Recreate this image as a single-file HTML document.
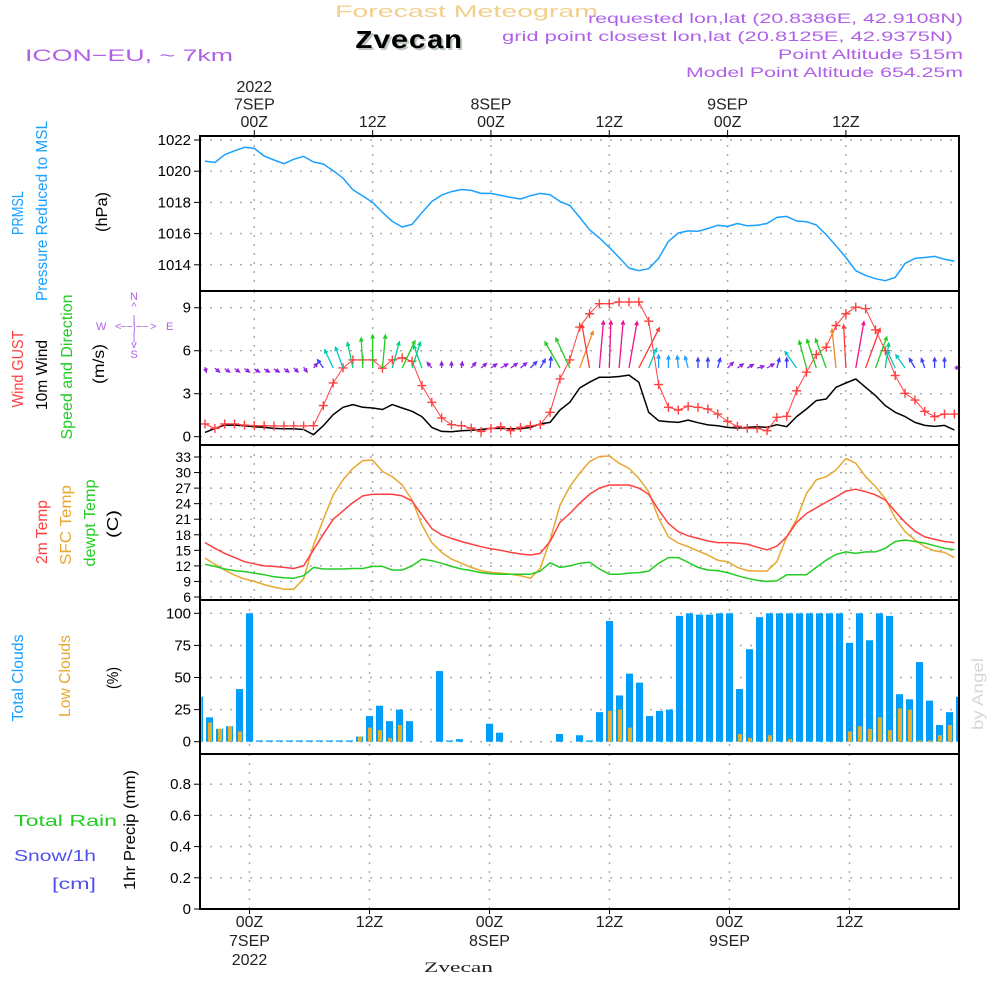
<!DOCTYPE html>
<html><head><meta charset="utf-8"><title>Forecast Meteogram Zvecan</title>
<style>
html,body{margin:0;padding:0;background:#fff;}
svg{display:block;font-family:"Liberation Sans",sans-serif;}
</style></head>
<body>
<svg id="chart" width="1000" height="1000" viewBox="0 0 1000 1000" xmlns="http://www.w3.org/2000/svg">
<rect x="0" y="0" width="1000" height="1000" fill="#fff"/>
<g id="header">
<text x="335" y="17" font-size="17" fill="#f2cf8c" textLength="263" lengthAdjust="spacingAndGlyphs">Forecast Meteogram</text>
<text x="357" y="50" font-family="Liberation Mono, monospace" font-weight="bold" font-size="26" fill="#bcc8bc" textLength="107" lengthAdjust="spacingAndGlyphs">Zvecan</text>
<text x="355" y="48" font-family="Liberation Mono, monospace" font-weight="bold" font-size="26" fill="#000" textLength="107" lengthAdjust="spacingAndGlyphs">Zvecan</text>
<text x="25" y="61" font-size="17" fill="#b060e8" textLength="208" lengthAdjust="spacingAndGlyphs">ICON−EU, ~ 7km</text>
<text x="588" y="23" font-size="14" fill="#b060e8" textLength="375" lengthAdjust="spacingAndGlyphs">requested lon,lat (20.8386E, 42.9108N)</text>
<text x="502" y="41" font-size="14" fill="#b060e8" textLength="451" lengthAdjust="spacingAndGlyphs">grid point closest lon,lat (20.8125E, 42.9375N)</text>
<text x="778" y="59" font-size="14" fill="#b060e8" textLength="185" lengthAdjust="spacingAndGlyphs">Point Altitude 515m</text>
<text x="686" y="77" font-size="14" fill="#b060e8" textLength="277" lengthAdjust="spacingAndGlyphs">Model Point Altitude 654.25m</text>
</g>
<g id="grid"></g>
<g id="marks"></g>
<g id="frames"></g>
<g id="labels"></g>
</svg>
<script>
// ---- data (hourly, h = -5 .. 71) ----
const hours = Array.from({length:77},(_,i)=>i-5);
const pressure = [1020.65,1020.56,1021.06,1021.31,1021.53,1021.46,1020.97,1020.72,1020.48,1020.76,1020.95,1020.59,1020.46,1020.03,1019.56,1018.81,1018.41,1018.0,1017.36,1016.78,1016.42,1016.59,1017.34,1018.06,1018.47,1018.69,1018.83,1018.77,1018.58,1018.58,1018.45,1018.32,1018.22,1018.43,1018.58,1018.49,1018.06,1017.81,1017.04,
1016.25,1015.72,1015.12,1014.47,1013.79,1013.62,1013.75,1014.41,1015.5,1016.04,1016.17,1016.15,1016.33,1016.53,1016.46,1016.65,1016.5,1016.53,1016.65,1017.04,1017.1,1016.81,1016.76,1016.55,1015.93,1015.22,1014.47,1013.62,1013.32,1013.11,1012.98,1013.19,1014.09,1014.41,1014.47,1014.54,1014.35,1014.24];
const windSpeed = [0.3,0.58,0.81,0.81,0.77,0.7,0.65,0.58,0.55,0.55,0.5,0.14,0.77,1.54,2.05,2.24,2.05,2.0,1.9,2.24,2.0,1.77,1.4,0.65,0.37,0.35,0.42,0.45,0.5,0.58,0.58,0.55,0.55,0.65,0.89,1.0,1.86,2.4,3.4,
3.8,4.15,4.15,4.2,4.3,3.8,1.7,1.12,1.05,1.0,1.16,0.98,0.82,0.77,0.65,0.6,0.65,0.7,0.65,0.84,0.7,1.4,1.93,2.52,2.63,3.45,3.75,4.03,3.45,2.87,2.17,1.7,1.4,1.0,0.79,0.72,0.79,0.47];
const windGust = [0.89,0.58,0.89,0.89,0.81,0.77,0.77,0.75,0.75,0.75,0.75,0.77,2.17,3.75,4.8,5.36,5.36,5.36,4.78,5.36,5.5,5.27,3.57,2.4,1.31,0.84,0.77,0.6,0.37,0.58,0.7,0.42,0.65,0.77,0.84,1.7,4.03,5.36,7.65,
8.58,9.28,9.28,9.4,9.4,9.4,8.06,3.64,2.05,1.86,2.12,2.05,1.93,1.58,1.07,0.72,0.58,0.58,0.42,1.35,1.42,3.2,4.5,5.73,6.25,7.76,8.58,9.04,8.93,7.46,6.0,4.27,3.03,2.56,1.77,1.4,1.58,1.58];
const windDir = [165,130,125,125,125,120,120,120,125,135,145,40,-35,-25,-20,-12,-3,0,5,15,25,18,-20,-40,0,0,10,40,50,55,60,55,50,45,30,5,-30,-25,20,
-10,5,2,5,10,27,22,0,0,-5,-15,0,0,15,45,55,60,75,60,15,0,-35,-15,-18,-20,-6,-3,10,20,20,8,-25,-35,-30,-20,0,0,85];
const arrowMag = [0.5,0.6,0.6,0.6,0.6,0.6,0.6,0.6,0.6,0.6,0.6,0.6,1.0,2.0,2.2,2.6,3.0,3.3,3.3,2.7,3.0,2.7,2.4,0.7,0.6,0.6,0.6,0.7,0.7,0.7,0.8,0.8,0.8,0.9,1.0,1.1,3.0,3.3,3.9,
4.4,4.7,4.7,4.7,4.7,4.5,2.1,1.3,1.2,1.2,1.2,1.0,1.0,1.0,0.8,0.7,0.7,0.7,0.8,1.0,1.0,2.0,2.8,3.0,3.1,3.9,4.3,4.7,4.2,3.3,2.5,1.9,1.6,1.1,1.0,1.0,1.0,0.5];
const temp2m = [16.5,15.4,14.4,13.6,12.8,12.4,12.0,11.9,11.7,11.5,12.0,15.1,18.1,21.0,22.6,24.2,25.5,25.8,25.8,25.8,25.5,24.5,21.8,19.2,18.0,17.3,16.7,16.2,15.7,15.3,15.0,14.6,14.3,14.1,14.4,16.7,20.4,22.1,24.1,
25.8,27.0,27.6,27.6,27.6,27.0,25.8,22.8,20.2,18.6,17.8,17.3,16.8,16.5,16.5,16.4,16.2,15.6,15.1,15.8,17.6,20.4,22.1,23.2,24.3,25.3,26.4,26.8,26.3,25.7,24.7,22.5,20.4,18.7,17.6,17.1,16.7,16.5];
const tempSfc = [13.5,12.3,11.2,10.2,9.5,9.0,8.4,7.9,7.5,7.5,9.5,16.0,20.9,25.7,28.6,30.8,32.3,32.4,30.2,29.2,27.6,24.7,19.9,16.5,14.6,13.3,12.5,11.7,11.1,10.7,10.6,10.4,10.1,9.6,11.5,17.0,23.7,27.3,29.9,
32.1,33.1,33.2,31.8,30.8,28.9,26.3,21.2,17.6,16.4,15.7,14.9,14.1,13.1,12.8,11.7,11.1,11.0,11.0,12.8,17.6,21.0,26.0,28.6,29.2,30.5,32.7,31.8,29.2,27.3,25.0,21.2,18.6,17.0,15.7,14.9,14.6,13.6];
const dewpt = [12.3,11.9,11.4,11.1,10.9,10.6,10.3,9.9,9.7,9.6,10.1,11.7,11.4,11.4,11.4,11.5,11.5,11.9,11.9,11.2,11.2,12.0,13.3,13.0,12.5,11.9,11.4,11.1,10.7,10.5,10.4,10.4,10.4,10.4,11.0,12.6,11.7,12.0,12.5,
12.7,11.4,10.4,10.4,10.6,10.7,11.0,12.5,13.6,13.6,12.7,11.7,11.2,11.1,10.7,10.1,9.6,9.2,9.0,9.1,10.3,10.3,10.3,11.7,13.1,14.2,14.7,14.4,14.7,14.7,15.4,16.7,17.0,16.7,16.4,15.9,15.4,15.1];
const totalClouds = [35,19,10,12,41,100,1,1,1,1,1,1,1,1,1,1,4,20,28,16,25,16,0,0,55,1,2,0,0,14,7,0,0,0,0,0,6,0,5,1,
23,94,36,53,46,20,24,25,98,100,99,99,100,100,41,72,97,100,100,100,100,100,100,100,100,77,100,79,100,98,37,33,62,32,13,23,35];
const lowClouds = [35,15,10,12,8,0,0,0,0,0,0,0,0,0,0,0,4,11,9,3,13,0,0,0,0,0,0,0,0,0,0,0,0,0,0,0,0,0,0,0,
0,24,25,11,0,0,0,0,0,0,0,0,0,0,6,3,0,5,0,2,0,0,0,0,0,8,12,10,19,9,26,25,1,1,5,13,3];
const precip = new Array(77).fill(0);
const topTicks = [0,12,24,36,48,60];
const topTickLabels = [["2022","7SEP","00Z"],["12Z"],["8SEP","00Z"],["12Z"],["9SEP","00Z"],["12Z"]];
const botTickLabels = [["00Z","7SEP","2022"],["12Z"],["00Z","8SEP"],["12Z"],["00Z","9SEP"],["12Z"]];
const pTicks = [1014,1016,1018,1020,1022];
const wTicks = [0,3,6,9];
const tTicks = [6,9,12,15,18,21,24,27,30,33];
const cTicks = [0,25,50,75,100];
const rTicks = [0,0.2,0.4,0.6,0.8];

// ---- scales ----
const X0=200, X1=959;
const xTop = h => 254.3 + 9.86*h;
const xBot = h => 249.5 + 10*h;
const yP = p => 140 + (1022-p)*15.6;
const yW = w => 436.7 - w*14.33;
const yT = t => 597 - (t-6)*5.185;
const yC = c => 741.7 - c*1.284;
const yR = r => 909 - r*156;
const panels = [[136,291],[291,445],[445,600],[600,754],[754,909]];

const NS="http://www.w3.org/2000/svg";
function mk(tag, attrs, parent){const e=document.createElementNS(NS,tag);for(const k in attrs)e.setAttribute(k,attrs[k]);parent.appendChild(e);return e;}
const grid=document.getElementById('grid'), marks=document.getElementById('marks'), frames=document.getElementById('frames'), labels=document.getElementById('labels');

// gridlines
function hgrid(vals, sc, name){vals.forEach(v=>{const l=mk('line',{x1:X0,x2:X1,y1:sc(v),y2:sc(v),stroke:'#a8a8a8','stroke-width':1.4,'stroke-dasharray':'2 8'},grid);

});}
hgrid(pTicks,yP,'pressure');hgrid(wTicks,yW,'wind');hgrid(tTicks,yT,'temp');hgrid(cTicks,yC,'cloud');hgrid(rTicks.slice(1),yR,'precip');
topTicks.forEach(h=>{
  [[0],[1],[2]].forEach(([pi])=>{const l=mk('line',{x1:xTop(h),x2:xTop(h),y1:panels[pi][0],y2:panels[pi][1],stroke:'#a8a8a8','stroke-width':1.4,'stroke-dasharray':'2 7'},grid);
  
  });
  [[3],[4]].forEach(([pi])=>{const l=mk('line',{x1:xBot(h),x2:xBot(h),y1:panels[pi][0],y2:panels[pi][1],stroke:'#a8a8a8','stroke-width':1.4,'stroke-dasharray':'2 7'},grid);
  
  });
});

function poly(vals, xs, sc, color, name, w){
  const pts=vals.map((v,i)=>xs(hours[i]).toFixed(1)+','+sc(v).toFixed(1)).join(' ');
  const p=mk('polyline',{points:pts,fill:'none',stroke:color,'stroke-width':w||1.5,'stroke-linejoin':'round'},marks);
  
  
}
// pressure
poly(pressure,xTop,yP,'#1aa0ff','pressure-line');
// clouds bars
totalClouds.forEach((v,i)=>{const cx=xBot(hours[i]);const x=Math.max(X0,cx-3.5), x2=Math.min(X1,cx+3.5);
  const r=mk('rect',{x:x,y:yC(v),width:Math.max(0,x2-x),height:yC(0)-yC(v),fill:'#009ef8'},marks);
  
  });
lowClouds.forEach((v,i)=>{const cx=xBot(hours[i]);const x=Math.max(X0,cx-1.5), x2=Math.min(X1,cx+2.5);
  const r=mk('rect',{x:x,y:yC(v),width:Math.max(0,x2-x),height:yC(0)-yC(v),fill:'#e8ad2c'},marks);
  
  });
// precip baseline bars (zero)
precip.forEach((v,i)=>{if(v>0){const r=mk('rect',{x:xBot(hours[i])-3.5,y:yR(v),width:7,height:yR(0)-yR(v),fill:'#22cc22'},marks);
  
  }});
// temperature
poly(tempSfc,xTop,yT,'#e8a830','sfc-temp-line');
poly(dewpt,xTop,yT,'#22cc22','dewpoint-line');
poly(temp2m,xTop,yT,'#ff4040','temp-2m-line');
// wind
poly(windSpeed,xTop,yW,'#000','wind-speed-line');
poly(windGust,xTop,yW,'#ff4040','wind-gust-line',1);
windGust.forEach((v,i)=>{const x=xTop(hours[i]),y=yW(v);
  const g=mk('path',{d:`M${x-4.5},${y}H${x+4.5}M${x},${y-4.5}V${y+4.5}`,stroke:'#ff4040','stroke-width':1.4,fill:'none'},marks);
  
  });
function arrowColor(m){if(m<0.85)return '#9020e0';if(m<1.15)return '#3a40ff';if(m<1.6)return '#20a0ff';if(m<2.3)return '#00c8c0';if(m<2.75)return '#00d080';if(m<3.35)return '#22cc22';if(m<3.6)return '#a8e020';if(m<4.1)return '#f08828';if(m<4.6)return '#ff3838';return '#f01090';}
windDir.forEach((d,i)=>{const m=arrowMag[i], L=m*10, a=d*Math.PI/180;
  const dx=Math.sin(a)*L, dy=-Math.cos(a)*L;
  const x0=xTop(hours[i]); let y0=368; if(dy>0){y0=372-dy;}
  const x1=x0+dx,y1=y0+dy; const hl=4;
  const b1=a+Math.PI-0.45,b2=a+Math.PI+0.45;
  const g=mk('path',{d:`M${x0.toFixed(1)},${y0.toFixed(1)}L${x1.toFixed(1)},${y1.toFixed(1)}M${(x1+Math.sin(b1)*hl).toFixed(1)},${(y1-Math.cos(b1)*hl).toFixed(1)}L${x1.toFixed(1)},${y1.toFixed(1)}L${(x1+Math.sin(b2)*hl).toFixed(1)},${(y1-Math.cos(b2)*hl).toFixed(1)}`,stroke:arrowColor(m),'stroke-width':1.3,fill:'none'},marks);
  
  });

// frames
panels.forEach((p,i)=>{const r=mk('rect',{x:X0,y:p[0],width:X1-X0,height:p[1]-p[0],fill:'none',stroke:'#000','stroke-width':2},frames);
  
  });

// axis tick labels
function yLabels(vals, sc, name, fs, fmt){vals.forEach(v=>{const y=sc(v);
  const t=mk('line',{x1:194,x2:200,y1:y,y2:y,stroke:'#000','stroke-width':1},labels);
  
  
  const tx=mk('text',{x:191,y:y+5,'text-anchor':'end','font-size':fs,fill:'#000'},labels);
  tx.textContent=fmt?fmt(v):String(v);
  
  });}
yLabels(pTicks,yP,'pressure',15);
yLabels(wTicks,yW,'wind',15);
yLabels(tTicks,yT,'temp',14);
yLabels(cTicks,yC,'cloud',15);
yLabels(rTicks,yR,'precip',15,v=>v===0?'0':v.toFixed(1));

topTicks.forEach((h,i)=>{const x=xTop(h);
  const t=mk('line',{x1:x,x2:x,y1:130,y2:136,stroke:'#000','stroke-width':1},labels);
  
  
  const lines=topTickLabels[i]; lines.forEach((s,j)=>{const y=127-(lines.length-1-j)*17.5;
    const tx=mk('text',{x:x,y:y,'text-anchor':'middle','font-size':16,fill:'#222'},labels);
    tx.textContent=s;
    
    });
  const xb=xBot(h);
  const t2=mk('line',{x1:xb,x2:xb,y1:909,y2:914,stroke:'#000','stroke-width':1},labels);
  
  
  botTickLabels[i].forEach((s,j)=>{const tx=mk('text',{x:xb,y:927+j*19,'text-anchor':'middle','font-size':16,fill:'#222'},labels);
    tx.textContent=s;
    
    });
});

// rotated axis titles
function vtext(str,x,yc,color,fs,len,name){const t=mk('text',{x:0,y:0,transform:`translate(${x},${yc}) rotate(-90)`,'text-anchor':'middle','font-size':fs,fill:color,textLength:len,lengthAdjust:'spacingAndGlyphs'},labels);
  t.textContent=str;
  
  }
vtext('PRMSL',23,213,'#1aa0ff',16,44,'prmsl-title');
vtext('Pressure Reduced to MSL',47,211,'#1aa0ff',16,180,'pressure-title');
vtext('(hPa)',107,212,'#000',16,40,'pressure-unit');
vtext('Wind GUST',23,369,'#ff4040',16,77,'wind-gust-title');
vtext('10m Wind',47,375,'#000',16,70,'wind-10m-title');
vtext('Speed and Direction',72,367,'#22cc22',16,145,'wind-direction-title');
vtext('(m/s)',104,364,'#000',16,40,'wind-unit');
vtext('2m Temp',47,532,'#ff4040',16,64,'temp-2m-title');
vtext('SFC Temp',71,525,'#e8a830',16,80,'sfc-temp-title');
vtext('dewpt Temp',95,523,'#22cc22',16,87,'dewpt-title');
vtext('(C)',118,524,'#000',16,28,'temp-unit');
vtext('Total Clouds',23,678,'#1aa0ff',16,87,'total-clouds-title');
vtext('Low Clouds',70,676,'#e8a830',16,82,'low-clouds-title');
vtext('(%)',118,678,'#000',16,22,'cloud-unit');
vtext('1hr Precip (mm)',135,830,'#000',16,120,'precip-title');
vtext('by Angel',983,694,'#d8d8d8',16,72,'credit');
</script>
<g></g>
<svg width="0" height="0"></svg>
<div style="position:absolute;left:0;top:0;width:1000px;height:1000px;pointer-events:none;">
<svg width="1000" height="1000" style="position:absolute;left:0;top:0" font-family="Liberation Sans, sans-serif">
<g fill="#b060e8" font-size="11">
<text x="134" y="300" text-anchor="middle">N</text>
<text x="134" y="310" text-anchor="middle">^</text>
<text x="134" y="323" text-anchor="middle">|</text>
<text x="96" y="330">W</text>
<text x="115" y="330">&lt;</text>
<text x="120" y="330">−−|−−</text>
<text x="150" y="330">&gt;</text>
<text x="166" y="330">E</text>
<text x="134" y="340" text-anchor="middle">|</text>
<text x="134" y="348" text-anchor="middle">v</text>
<text x="134" y="358" text-anchor="middle">S</text>
</g>
<g font-size="16">
<text x="14" y="826" fill="#22cc22" textLength="103" lengthAdjust="spacingAndGlyphs">Total   Rain</text>
<text x="14" y="861" fill="#5050f0" textLength="82" lengthAdjust="spacingAndGlyphs">Snow/1h</text>
<text x="52" y="889" fill="#5050f0" textLength="44" lengthAdjust="spacingAndGlyphs">[cm]</text>
</g>
<text x="424" y="972" font-family="Liberation Serif, serif" font-size="15" fill="#222" textLength="69" lengthAdjust="spacingAndGlyphs">Zvecan</text>
</svg>
</div>
</body></html>
